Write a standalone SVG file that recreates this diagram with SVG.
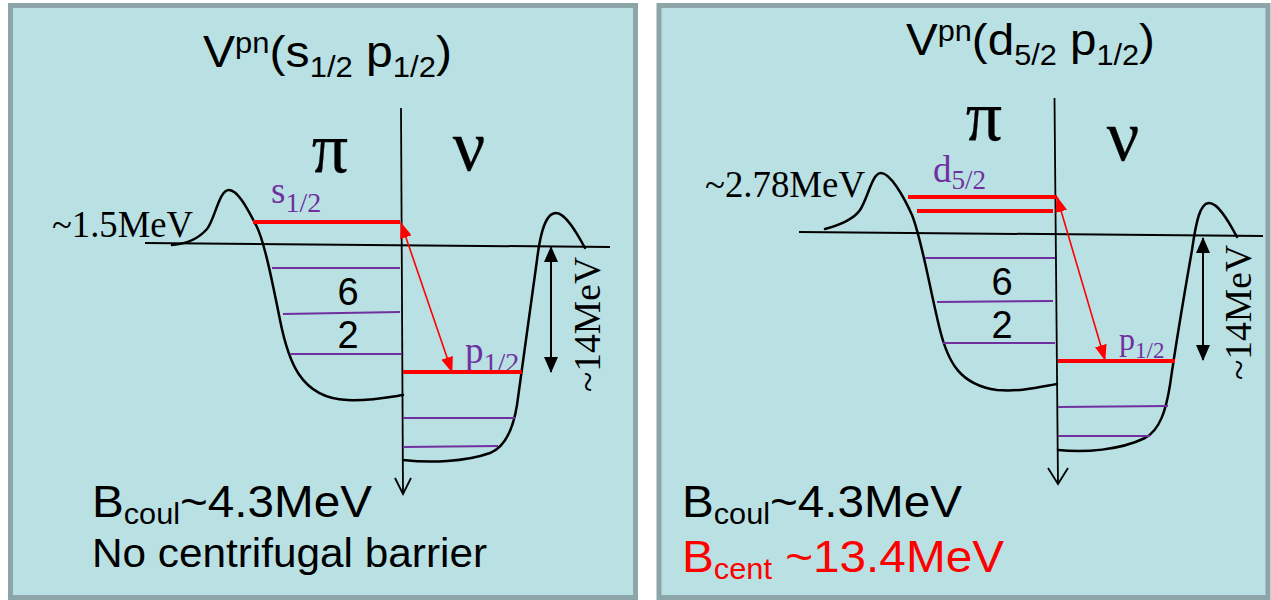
<svg xmlns="http://www.w3.org/2000/svg" width="1271" height="600" viewBox="0 0 1271 600">
<defs>
<style>
.panel{fill:#b9e0e3;stroke:#8ba5a8;stroke-width:5}
.curve{fill:none;stroke:#000;stroke-width:2.5;stroke-linecap:round}
.axis{fill:none;stroke:#000;stroke-width:1.8}
.zero{fill:none;stroke:#000;stroke-width:2}
.red{fill:none;stroke:#ff0000;stroke-width:4}
.pur{fill:none;stroke:#7030a0;stroke-width:2}
.rarr{fill:none;stroke:#ff0000;stroke-width:1.6}
.barr{fill:none;stroke:#000;stroke-width:2}
.sans{font-family:"Liberation Sans",Arial,sans-serif}
.serif{font-family:"Liberation Serif","Times New Roman",serif}
.greek{font-family:"Liberation Serif","Times New Roman",serif;font-size:72px;text-anchor:middle;stroke:#000;stroke-width:0.3}
.purt{fill:#7030a0}
</style>
<marker id="rh" markerUnits="userSpaceOnUse" viewBox="0 0 16 12" markerWidth="16" markerHeight="12" refX="15" refY="6" orient="auto-start-reverse"><path d="M0,0 L16,6 L0,12 z" fill="#ff0000"/></marker>
<marker id="bh" markerUnits="userSpaceOnUse" viewBox="0 0 16 14" markerWidth="16" markerHeight="14" refX="15" refY="7" orient="auto-start-reverse"><path d="M0,0 L16,7 L0,14 z" fill="#000"/></marker>
</defs>

<g id="panel-left">
<rect class="panel" x="10.5" y="5.5" width="625" height="592"/>
<text class="sans" x="203" y="67" font-size="45" textLength="249" lengthAdjust="spacingAndGlyphs">V<tspan font-size="29" dy="-14">pn</tspan><tspan dy="14">(s</tspan><tspan font-size="29" dy="10">1/2</tspan><tspan dy="-10"> p</tspan><tspan font-size="29" dy="10">1/2</tspan><tspan dy="-10">)</tspan></text>
<text class="greek" x="330" y="172">π</text>
<text class="greek" x="469" y="170">ν</text>
<text class="serif" x="52" y="237" font-size="37" textLength="141" lengthAdjust="spacingAndGlyphs">~1.5MeV</text>
<text class="sans" x="348" y="305" font-size="38" text-anchor="middle">6</text>
<text class="sans" x="348" y="348" font-size="38" text-anchor="middle">2</text>
<text class="serif purt" x="271" y="203" font-size="37">s<tspan font-size="28" dy="9">1/2</tspan></text>
<text class="serif purt" x="465" y="363" font-size="37">p<tspan font-size="28" dy="9">1/2</tspan></text>
<text class="serif" transform="translate(600,392) rotate(-90)" font-size="37" textLength="135" lengthAdjust="spacingAndGlyphs">~14MeV</text>
<text class="sans" x="92" y="517" font-size="45" textLength="280" lengthAdjust="spacingAndGlyphs">B<tspan font-size="29" dy="7">coul</tspan><tspan dy="-7">~4.3MeV</tspan></text>
<text class="sans" x="92" y="567" font-size="40" textLength="395" lengthAdjust="spacingAndGlyphs">No centrifugal barrier</text>
</g>

<g id="panel-right">
<rect class="panel" x="659" y="5.5" width="609" height="592"/>
<text class="sans" x="906" y="55" font-size="45" textLength="249" lengthAdjust="spacingAndGlyphs">V<tspan font-size="29" dy="-14">pn</tspan><tspan dy="14">(d</tspan><tspan font-size="29" dy="10">5/2</tspan><tspan dy="-10"> p</tspan><tspan font-size="29" dy="10">1/2</tspan><tspan dy="-10">)</tspan></text>
<text class="greek" x="984" y="140">π</text>
<text class="greek" x="1123" y="160">ν</text>
<text class="serif" x="705" y="197" font-size="37" textLength="160" lengthAdjust="spacingAndGlyphs">~2.78MeV</text>
<text class="sans" x="1002" y="295" font-size="38" text-anchor="middle">6</text>
<text class="sans" x="1002" y="338" font-size="38" text-anchor="middle">2</text>
<text class="serif purt" x="933" y="182" font-size="37">d<tspan font-size="27" dy="7">5/2</tspan></text>
<text class="serif purt" x="1119" y="350" font-size="32">p<tspan font-size="23" dy="8">1/2</tspan></text>
<text class="serif" transform="translate(1251,380) rotate(-90)" font-size="37" textLength="135" lengthAdjust="spacingAndGlyphs">~14MeV</text>
<text class="sans" x="682" y="517" font-size="45" textLength="280" lengthAdjust="spacingAndGlyphs">B<tspan font-size="29" dy="7">coul</tspan><tspan dy="-7">~4.3MeV</tspan></text>
<text class="sans" x="682" y="572" font-size="45" fill="#ff0000" textLength="322" lengthAdjust="spacingAndGlyphs">B<tspan font-size="29" dy="7">cent</tspan><tspan dy="-7"> ~13.4MeV</tspan></text>
</g>

<g id="connectors">
<path class="zero" d="M145,243 L610,247"/>
<path class="axis" d="M401,108 L403,494"/>
<path class="axis" d="M395,478 L403,494 L411,478"/>
<path class="curve" d="M172,245 C188,244 199,238 207,229 C215,219 219,190 229,190 C238,190 248,210 256,225 C264,240 272,280 280,320 C288,360 300,398 347,400 C370,401 390,397 403,395"/>
<path class="curve" d="M403,460 C430,463 465,462 490,453 C505,447 513,430 517,405 C522,370 530,310 537,260 C540,235 545,213 556,213 C566,213 578,235 585,248"/>
<path class="pur" d="M272,268 L400,268"/>
<path class="pur" d="M283,314 L400,312"/>
<path class="pur" d="M290,354 L402,354"/>
<path class="pur" d="M403,418 L515,418"/>
<path class="pur" d="M403,447 L498,446"/>
<path class="red" d="M253,222 L400,222"/>
<path class="red" d="M403,372 L522,372"/>
<path class="rarr" d="M401,223 L452,372" marker-start="url(#rh)" marker-end="url(#rh)"/>
<path class="barr" d="M551,247 L551,372" marker-start="url(#bh)" marker-end="url(#bh)"/>
<path class="zero" d="M799,232 L1263,236"/>
<path class="axis" d="M1054.5,98 L1058,484"/>
<path class="axis" d="M1048,468 L1058,484 L1068,468"/>
<path class="curve" d="M825,229 C840,225 853,220 860,210 C868,198 872,173 881,173 C890,173 903,195 912,215 C922,240 930,290 940,330 C948,362 960,385 997,390 C1020,392 1040,387 1057,384"/>
<path class="curve" d="M1058,450 C1085,453 1120,450 1145,438 C1160,430 1166,410 1170,385 C1175,350 1185,290 1192,250 C1196,222 1200,203 1209,203 C1218,203 1228,220 1237,237"/>
<path class="pur" d="M925,258 L1055,258"/>
<path class="pur" d="M937,302 L1053,301"/>
<path class="pur" d="M943,343 L1055,343"/>
<path class="pur" d="M1058,407 L1168,406"/>
<path class="pur" d="M1058,436 L1150,436"/>
<path class="red" d="M908,197 L1057,197"/>
<path class="red" d="M917,211 L1053,211"/>
<path class="red" d="M1058,361 L1175,361"/>
<path class="rarr" d="M1057,197 L1105,360" marker-start="url(#rh)" marker-end="url(#rh)"/>
<path class="barr" d="M1203,238 L1203,360" marker-start="url(#bh)" marker-end="url(#bh)"/>
</g>
</svg>
